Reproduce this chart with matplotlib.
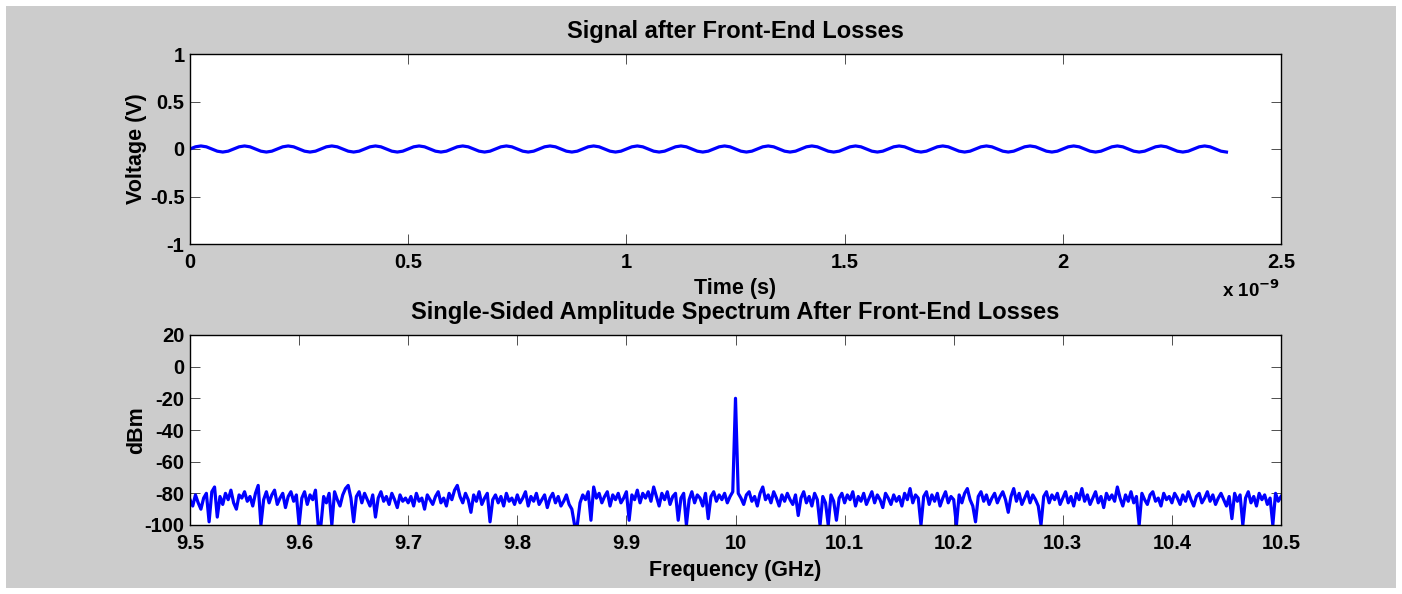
import numpy as np
import matplotlib
matplotlib.use("Agg")
import matplotlib.pyplot as plt
from matplotlib.patches import Rectangle
from matplotlib.ticker import FuncFormatter

plt.rcParams['font.family'] = ['Liberation Sans', 'DejaVu Sans']
plt.rcParams['font.weight'] = 'bold'
plt.rcParams['axes.unicode_minus'] = False

# ---------------- data ----------------
# time-domain signal (V), sampled every 12.5 ps from t = 0
t_step_s = 12.5e-12
voltage = [
    0, .023, .032, .023, 0, -.023, -.032, -.023,
    0, .023, .032, .023, 0, -.023, -.032, -.023,
    0, .023, .032, .023, 0, -.023, -.032, -.023,
    0, .023, .032, .023, 0, -.023, -.032, -.023,
    0, .023, .032, .023, 0, -.023, -.032, -.023,
    0, .023, .032, .023, 0, -.023, -.032, -.023,
    0, .023, .032, .023, 0, -.023, -.032, -.023,
    0, .023, .032, .023, 0, -.023, -.032, -.023,
    0, .023, .032, .023, 0, -.023, -.032, -.023,
    0, .023, .032, .023, 0, -.023, -.032, -.023,
    0, .023, .032, .023, 0, -.023, -.032, -.023,
    0, .023, .032, .023, 0, -.023, -.032, -.023,
    0, .023, .032, .023, 0, -.023, -.032, -.023,
    0, .023, .032, .023, 0, -.023, -.032, -.023,
    0, .023, .032, .023, 0, -.023, -.032, -.023,
    0, .023, .032, .023, 0, -.023, -.032, -.023,
    0, .023, .032, .023, 0, -.023, -.032, -.023,
    0, .023, .032, .023, 0, -.023, -.032, -.023,
    0, .023, .032, .023, 0, -.023, -.032, -.023,
    0, .023, .032, .023, 0, -.023, -.032, -.023,
    0, .023, .032, .023, 0, -.023, -.032, -.023,
    0, .023, .032, .023, 0, -.023, -.032, -.023,
    0, .023, .032, .023, 0, -.023, -.032, -.023,
    0, .023, .032, .023, 0, -.023, -.032,
]

# spectrum (dBm), 9.5 .. 10.5 GHz in 2.5 MHz steps
f_start_ghz, f_stop_ghz = 9.5, 10.5
spectrum_dbm = [
    -84, -88, -81, -86, -90, -83, -80, -98, -79, -76, -95, -82, -87, -80, -84, -78, -86, -90, -81, -83,
    -79, -85, -82, -88, -80, -75, -100, -84, -79, -86, -81, -78, -87, -83, -80, -89, -82, -79, -85, -81,
    -100, -83, -79, -87, -81, -84, -78, -100, -100, -82, -86, -80, -100, -79, -84, -88, -81, -77, -75, -83,
    -98, -82, -79, -86, -80, -84, -88, -81, -95, -83, -79, -85, -82, -87, -80, -84, -89, -81, -85, -83,
    -86, -82, -88, -80, -85, -83, -90, -81, -84, -87, -82, -79, -86, -83, -88, -80, -84, -78, -75, -82,
    -86, -80, -84, -92, -81, -85, -79, -87, -83, -80, -98, -84, -81, -86, -82, -88, -80, -85, -83, -87,
    -81, -86, -83, -79, -88, -82, -85, -80, -87, -84, -81, -89, -83, -80, -86, -82, -88, -85, -81, -87,
    -90, -100, -100, -86, -81, -84, -79, -97, -76, -83, -80, -86, -82, -79, -88, -81, -84, -80, -86, -83,
    -79, -97, -81, -84, -78, -86, -80, -83, -79, -85, -76, -82, -88, -80, -84, -79, -87, -82, -80, -97,
    -83, -80, -100, -84, -79, -86, -81, -83, -88, -80, -96, -82, -79, -85, -81, -84, -80, -86, -82, -79,
    -20, -80, -83, -87, -81, -79, -85, -82, -88, -80, -76, -84, -81, -86, -79, -83, -88, -81, -85, -80,
    -84, -87, -81, -94, -83, -79, -86, -82, -88, -80, -84, -100, -82, -86, -100, -81, -85, -97, -83, -80,
    -86, -81, -84, -79, -88, -82, -85, -80, -87, -83, -79, -86, -81, -84, -89, -80, -83, -87, -81, -85,
    -82, -88, -80, -84, -77, -86, -81, -83, -100, -82, -79, -87, -81, -85, -80, -88, -83, -79, -86, -82,
    -84, -100, -81, -86, -80, -77, -84, -88, -98, -82, -79, -85, -81, -87, -83, -80, -86, -82, -79, -84,
    -92, -82, -77, -85, -80, -87, -83, -79, -86, -81, -84, -88, -100, -82, -79, -86, -81, -84, -80, -87,
    -83, -79, -86, -82, -88, -80, -84, -77, -85, -81, -87, -83, -79, -86, -82, -89, -80, -84, -81, -85,
    -76, -83, -88, -81, -85, -79, -86, -82, -100, -80, -84, -87, -81, -79, -85, -83, -88, -80, -84, -82,
    -86, -80, -83, -87, -81, -85, -79, -84, -88, -82, -80, -86, -83, -79, -85, -81, -87, -83, -80, -84,
    -88, -82, -96, -80, -85, -81, -100, -83, -79, -86, -82, -88, -80, -84, -81, -87, -83, -100, -80, -85,
    -82,
]

time_ticks = [0, 0.5e-9, 1.0e-9, 1.5e-9, 2.0e-9, 2.5e-9]
volt_ticks = [-1, -0.5, 0, 0.5, 1]
freq_ticks = [9.5, 9.6, 9.7, 9.8, 9.9, 10, 10.1, 10.2, 10.3, 10.4, 10.5]
dbm_ticks = [-100, -80, -60, -40, -20, 0, 20]

t = np.arange(len(voltage)) * t_step_s
f = np.linspace(f_start_ghz, f_stop_ghz, len(spectrum_dbm))

# ---------------- figure ----------------
W, H = 1402, 594
fig = plt.figure(figsize=(W / 100, H / 100), dpi=100, facecolor='white')
fig.patches.append(Rectangle((6 / W, (H - 588) / H), (1396 - 6) / W, (588 - 6) / H,
                             transform=fig.transFigure, facecolor='#cccccc',
                             edgecolor='none', zorder=-10))

def fpos(x0, y0, x1, y1):
    return [x0 / W, 1 - y1 / H, (x1 - x0) / W, (y1 - y0) / H]

ax1 = fig.add_axes(fpos(190, 54, 1281, 244))
ax2 = fig.add_axes(fpos(190, 335, 1281, 525))

blue = (0, 0, 1)
ax1.plot(t, voltage, color=blue, lw=2.3)
ax2.plot(f, spectrum_dbm, color=blue, lw=2.3)

ax1.set_xlim(0, 2.5e-9)
ax1.set_ylim(-1, 1)
ax1.set_xticks(time_ticks)
ax1.set_yticks(volt_ticks)
ax1.xaxis.set_major_formatter(FuncFormatter(lambda v, p: '%g' % round(v / 1e-9, 3)))
ax1.yaxis.set_major_formatter(FuncFormatter(lambda v, p: '%g' % v))

ax2.set_xlim(9.5, 10.5)
ax2.set_ylim(-100, 20)
ax2.set_xticks(freq_ticks)
ax2.set_yticks(dbm_ticks)
ax2.xaxis.set_major_formatter(FuncFormatter(lambda v, p: '%g' % round(v, 3)))
ax2.yaxis.set_major_formatter(FuncFormatter(lambda v, p: '%g' % v))

fs_tick = 14.5
for ax in (ax1, ax2):
    ax.set_facecolor('white')
    ax.tick_params(direction='in', top=True, right=True, length=7, width=0.6,
                   color='#333333', labelsize=fs_tick)
    ax.tick_params(axis='x', pad=6.5)
    ax.tick_params(axis='y', pad=4)
    for lab in ax.get_xticklabels() + ax.get_yticklabels():
        lab.set_fontweight('bold')
    for s in ax.spines.values():
        s.set_linewidth(1.0)
        s.set_color('black')

fs_lab = 15.5
fs_title = 17
ax1.set_title('Signal after Front-End Losses', fontsize=fs_title, fontweight='bold', pad=11.5)
ax1.set_xlabel('Time (s)', fontsize=fs_lab, fontweight='bold', labelpad=4.5)
ax1.set_ylabel('Voltage (V)', fontsize=fs_lab, fontweight='bold')
ax2.set_title('Single-Sided Amplitude Spectrum After Front-End Losses', fontsize=fs_title,
              fontweight='bold', pad=11.5)
ax2.set_xlabel('Frequency (GHz)', fontsize=fs_lab, fontweight='bold', labelpad=5)
ax2.set_ylabel('dBm', fontsize=fs_lab, fontweight='bold')
for ax in (ax1, ax2):
    ax.yaxis.set_label_coords((147 - 190) / 1091, 0.5)

fig.text(1280 / W, 1 - 290 / H, r'x 10$^{\mathbf{-9}}$', ha='right', va='center',
         fontsize=13.5, fontweight='bold')

fig.savefig('out.png', dpi=100, facecolor='white')
